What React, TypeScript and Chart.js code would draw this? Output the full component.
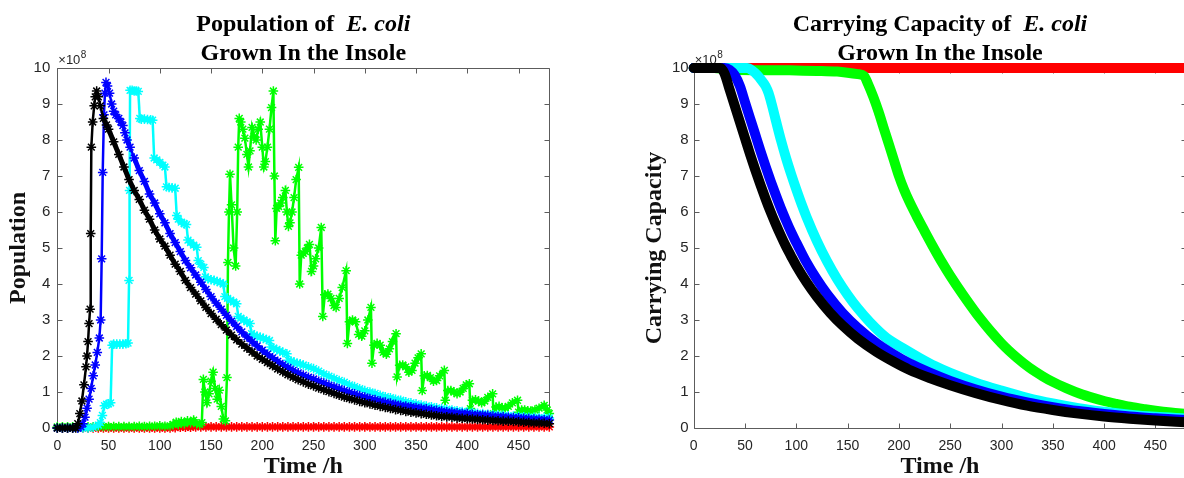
import React, { useEffect, useRef } from "react";
import { Chart, registerables } from "chart.js";

Chart.register(...registerables);

// ---------- axes ----------
const X_TICKS = [0, 50, 100, 150, 200, 250, 300, 350, 400, 450];
const Y_TICKS = [0, 1, 2, 3, 4, 5, 6, 7, 8, 9, 10];
const X_MAX = 480;
const Y_MAX = 10; // ×10^8

const LEFT_TITLE = ["Population of  ", "E. coli", "Grown In the Insole"];
const RIGHT_TITLE = ["Carrying Capacity of  ", "E. coli", "Grown In the Insole"];
const X_LABEL = "Time /h";
const LEFT_Y_LABEL = "Population";
const RIGHT_Y_LABEL = "Carrying Capacity";

// ---------- population (×10^8), [time h, value] ----------
const POP_BLACK: [number, number][] = [
  [0, 0], [5, 0], [10, 0], [15, 0], [18, 0], [20, 0.12], [22, 0.4], [24, 0.75], [26, 1.2], [28, 1.7], [29, 2.0],
  [30, 2.4], [31, 2.9], [32, 3.3], [32.6, 5.4], [33.2, 7.8], [34.5, 8.5], [36, 8.95], [37, 9.2], [38.4, 9.36],
  [40, 9.2], [42, 8.95], [45, 8.6], [48, 8.42], [50, 8.3], [55, 7.95], [60, 7.6], [65, 7.25], [70, 6.9], [75, 6.6],
  [80, 6.35], [85, 6.05], [90, 5.8], [95, 5.5], [100, 5.25], [105, 5.05], [110, 4.8], [115, 4.55], [120, 4.35],
  [125, 4.1], [130, 3.9], [135, 3.72], [140, 3.53], [145, 3.35], [150, 3.18], [155, 3.02], [160, 2.87], [165, 2.72],
  [170, 2.58], [175, 2.45], [180, 2.33], [185, 2.22], [190, 2.11], [195, 2.0], [200, 1.91], [205, 1.82], [210, 1.73],
  [215, 1.64], [220, 1.56], [225, 1.48], [230, 1.41], [235, 1.34], [240, 1.28], [245, 1.22], [250, 1.17], [255, 1.11],
  [260, 1.06], [265, 1.01], [270, 0.96], [275, 0.91], [280, 0.86], [285, 0.82], [290, 0.78], [295, 0.74], [300, 0.7],
  [305, 0.67], [310, 0.63], [315, 0.6], [320, 0.57], [325, 0.54], [330, 0.51], [335, 0.49], [340, 0.46], [345, 0.44],
  [350, 0.42], [355, 0.4], [360, 0.38], [365, 0.36], [370, 0.34], [375, 0.32], [380, 0.31], [385, 0.3], [390, 0.28],
  [395, 0.27], [400, 0.26], [405, 0.25], [410, 0.24], [415, 0.23], [420, 0.22], [425, 0.21], [430, 0.2], [435, 0.19],
  [440, 0.19], [445, 0.18], [450, 0.17], [455, 0.16], [460, 0.15], [465, 0.14], [470, 0.14], [475, 0.13], [480, 0.12],
];

const POP_BLUE: [number, number][] = [
  [0, 0], [5, 0], [10, 0], [15, 0], [20, 0], [23, 0.03], [25, 0.12], [27, 0.3], [29, 0.55], [31, 0.8], [33, 1.1],
  [35, 1.45], [37, 1.75], [39, 2.1], [41, 2.5], [42.3, 3.0], [43.3, 4.7], [44.3, 7.1], [45.5, 8.7], [46.5, 9.3],
  [47.5, 9.6], [49, 9.5], [51, 9.3], [53, 9.0], [55, 8.8], [57, 8.7], [60, 8.6], [62, 8.5], [64, 8.4], [66, 8.2],
  [68, 8.0], [71, 7.8], [75, 7.5], [80, 7.15], [85, 6.85], [90, 6.5], [95, 6.25], [100, 5.95], [105, 5.7], [110, 5.4],
  [115, 5.15], [120, 4.9], [125, 4.65], [130, 4.45], [135, 4.25], [140, 4.05], [145, 3.85], [150, 3.65], [155, 3.47],
  [160, 3.3], [165, 3.13], [170, 2.97], [175, 2.82], [180, 2.67], [185, 2.53], [190, 2.4], [195, 2.28], [200, 2.16],
  [205, 2.05], [210, 1.95], [215, 1.85], [220, 1.76], [225, 1.68], [230, 1.6], [235, 1.53], [240, 1.47], [245, 1.41],
  [250, 1.36], [255, 1.3], [260, 1.25], [265, 1.19], [270, 1.14], [275, 1.09], [280, 1.04], [285, 0.99], [290, 0.95],
  [295, 0.9], [300, 0.86], [305, 0.82], [310, 0.79], [315, 0.75], [320, 0.72], [325, 0.69], [330, 0.66], [335, 0.63],
  [340, 0.61], [345, 0.59], [350, 0.57], [355, 0.55], [360, 0.53], [365, 0.51], [370, 0.49], [375, 0.47], [380, 0.45],
  [385, 0.44], [390, 0.42], [395, 0.41], [400, 0.4], [405, 0.38], [410, 0.37], [415, 0.36], [420, 0.35], [425, 0.33],
  [430, 0.32], [435, 0.31], [440, 0.3], [445, 0.29], [450, 0.28], [455, 0.27], [460, 0.26], [465, 0.25], [470, 0.24],
  [475, 0.23], [480, 0.22],
];

const POP_CYAN: [number, number][] = [
  [0, 0], [5, 0], [10, 0], [15, 0], [20, 0], [25, 0], [30, 0], [35, 0.02], [40, 0.08], [42, 0.15], [44, 0.35],
  [46, 0.62], [48, 0.66], [50, 0.67], [52, 0.7], [53.5, 2.3], [55, 2.33], [58, 2.33], [61, 2.33], [64, 2.33],
  [67, 2.34], [69, 2.36], [70, 4.1], [70.5, 6.6], [71, 9.38], [73, 9.38], [75, 9.36], [77, 9.36], [79, 9.35],
  [80.5, 8.6], [82, 8.58], [85, 8.58], [88, 8.57], [91, 8.56], [93, 8.55], [94.5, 7.5], [97, 7.45], [100, 7.38],
  [103, 7.3], [105, 7.25], [106.5, 6.7], [109, 6.68], [112, 6.67], [115, 6.66], [116.5, 5.9], [118, 5.8], [121, 5.72],
  [124, 5.67], [126, 5.65], [127.5, 5.22], [130, 5.15], [133, 5.08], [136, 5.02], [137.5, 4.65], [140, 4.55],
  [143, 4.46], [144.5, 4.2], [147, 4.15], [150, 4.12], [153, 4.1], [156, 4.07], [159, 4.04], [162, 4.0], [163.5, 3.65],
  [166, 3.6], [169, 3.55], [172, 3.5], [175, 3.45], [176.5, 3.1], [179, 3.05], [182, 3.0], [185, 2.95], [188, 2.9],
  [189.5, 2.62], [192, 2.58], [195, 2.55], [198, 2.52], [201, 2.49], [204, 2.46], [207, 2.43], [208.5, 2.25],
  [211, 2.22], [214, 2.18], [217, 2.14], [220, 2.1], [224, 2.06], [225.5, 1.88], [228, 1.86], [231, 1.83], [234, 1.8],
  [237, 1.78], [240, 1.75], [245, 1.7], [250, 1.65], [255, 1.58], [260, 1.5], [265, 1.44], [270, 1.38], [275, 1.32],
  [280, 1.27], [285, 1.2], [290, 1.15], [295, 1.09], [300, 1.04], [305, 1.0], [310, 0.96], [315, 0.91], [320, 0.87],
  [325, 0.84], [330, 0.8], [335, 0.77], [340, 0.73], [345, 0.7], [350, 0.67], [355, 0.64], [360, 0.61], [365, 0.59],
  [370, 0.56], [375, 0.54], [380, 0.52], [385, 0.5], [390, 0.48], [395, 0.46], [400, 0.44], [405, 0.43], [410, 0.41],
  [415, 0.4], [420, 0.38], [425, 0.37], [430, 0.36], [435, 0.35], [440, 0.34], [445, 0.33], [450, 0.32], [455, 0.31],
  [460, 0.3], [465, 0.3], [470, 0.29], [475, 0.29], [480, 0.28],
];

const POP_GREEN: [number, number][] = [
  [0, 0.03], [5, 0.03], [10, 0.03], [15, 0.03], [20, 0.03], [25, 0.03], [30, 0.03], [35, 0.03], [40, 0.04], [45, 0.04],
  [50, 0.04], [55, 0.04], [60, 0.04], [65, 0.04], [70, 0.04], [75, 0.04], [80, 0.05], [85, 0.04], [90, 0.05], [95, 0.05],
  [100, 0.06], [105, 0.05], [110, 0.06], [113, 0.1], [116, 0.16], [118, 0.1], [121, 0.18], [124, 0.12], [127, 0.2],
  [130, 0.15], [133, 0.22], [136, 0.12], [139, 0.1], [141, 0.15], [142.5, 1.35], [144, 1.0], [146, 0.7], [148, 0.95],
  [150, 1.3], [152, 1.55], [154, 1.1], [156, 0.8], [158, 1.05], [160, 0.6], [162, 0.25], [164, 0.2], [165.5, 1.4],
  [166.5, 4.6], [167.5, 6.0], [168.5, 7.05], [170, 6.2], [172, 5.0], [174, 4.5], [175.5, 6.0], [176.5, 7.8], [177.5, 8.6],
  [179, 8.5], [181, 8.3], [183, 8.05], [185, 7.6], [186.5, 7.25], [188, 7.7], [190, 8.35], [192, 8.1], [194, 8.0],
  [196, 8.3], [198, 8.5], [200, 7.8], [201.5, 7.25], [203, 7.4], [205, 7.8], [207, 8.3], [209, 8.9], [210.8, 9.36],
  [211.8, 7.0], [212.7, 5.2], [214, 6.1], [216, 6.15], [218, 6.25], [220, 6.4], [222.5, 6.6], [224, 6.0], [225.5, 5.6],
  [227, 5.7], [229, 6.0], [231, 6.4], [233, 6.9], [235.5, 7.24], [236.5, 4.0], [238, 4.8], [240, 4.85], [242, 4.9],
  [244, 5.0], [246, 5.1], [248, 4.35], [250, 4.5], [252, 4.7], [255, 5.0], [257.5, 5.57], [259, 3.1], [261, 3.7],
  [264, 3.72], [267, 3.6], [270, 3.4], [272, 3.35], [275, 3.6], [278, 3.9], [281.8, 4.37], [283, 2.35], [285, 2.95],
  [288, 3.0], [291, 2.95], [294, 2.6], [297, 2.55], [300, 2.7], [303, 3.0], [306, 3.35], [307, 1.8], [309, 2.3],
  [312, 2.35], [315, 2.3], [318, 2.1], [321, 2.05], [324, 2.2], [327, 2.4], [330.5, 2.62], [331.5, 1.42], [334, 1.74],
  [337, 1.75], [340, 1.7], [343, 1.55], [346, 1.6], [349, 1.8], [352, 1.95], [355, 2.06], [356, 1.04], [358, 1.45],
  [361, 1.46], [364, 1.4], [367, 1.3], [370, 1.32], [373, 1.45], [377.6, 1.6], [378.5, 0.77], [381, 1.04], [384, 1.04],
  [387, 1.0], [390, 0.95], [393, 1.0], [396, 1.1], [399, 1.2], [402, 1.23], [403, 0.54], [405, 0.77], [408, 0.78],
  [411, 0.75], [414, 0.7], [417, 0.75], [420, 0.85], [424.7, 0.95], [425.5, 0.4], [428, 0.58], [431, 0.6], [434, 0.56],
  [437, 0.55], [440, 0.6], [444, 0.7], [449, 0.77], [450, 0.44], [453, 0.5], [456, 0.5], [459, 0.48], [462, 0.47],
  [466, 0.5], [470, 0.55], [475, 0.63], [478, 0.5], [480, 0.4],
];

const POP_RED: [number, number][] = [
  [0, 0], [5, 0], [10, 0], [15, 0], [20, 0], [25, 0], [30, 0], [35, 0], [40, 0], [45, 0], [50, 0], [55, 0], [60, 0],
  [65, 0], [70, 0], [75, 0], [80, 0], [85, 0], [90, 0], [95, 0], [100, 0], [105, 0], [110, 0], [115, 0.01], [120, 0.02],
  [125, 0.02], [130, 0.02], [135, 0.03], [140, 0.03], [145, 0.03], [150, 0.03], [155, 0.03], [160, 0.03], [165, 0.03],
  [170, 0.03], [175, 0.03], [180, 0.03], [185, 0.03], [190, 0.03], [195, 0.03], [200, 0.03], [205, 0.03], [210, 0.03],
  [215, 0.03], [220, 0.03], [225, 0.03], [230, 0.03], [235, 0.03], [240, 0.03], [245, 0.03], [250, 0.03], [255, 0.03],
  [260, 0.03], [265, 0.03], [270, 0.03], [275, 0.03], [280, 0.03], [285, 0.03], [290, 0.03], [295, 0.03], [300, 0.03],
  [305, 0.03], [310, 0.03], [315, 0.03], [320, 0.03], [325, 0.03], [330, 0.03], [335, 0.03], [340, 0.03], [345, 0.03],
  [350, 0.03], [355, 0.03], [360, 0.03], [365, 0.03], [370, 0.03], [375, 0.03], [380, 0.03], [385, 0.03], [390, 0.03],
  [395, 0.03], [400, 0.03], [405, 0.03], [410, 0.03], [415, 0.03], [420, 0.03], [425, 0.03], [430, 0.03], [435, 0.03],
  [440, 0.03], [445, 0.03], [450, 0.03], [455, 0.03], [460, 0.03], [465, 0.03], [470, 0.03], [475, 0.03], [480, 0.03],
];

// ---------- carrying capacity (×10^8), [time h, value] ----------
const CAP_BLACK: [number, number][] = [
  [0, 10], [26, 10], [30, 9.85], [35, 9.4], [40, 8.95], [45, 8.5], [50, 8.05], [55, 7.6], [60, 7.17], [65, 6.76],
  [70, 6.37], [75, 6.0], [80, 5.66], [85, 5.34], [90, 5.04], [95, 4.77], [100, 4.51], [110, 4.05], [120, 3.65],
  [133, 3.2], [145, 2.85], [160, 2.48], [178, 2.12], [195, 1.84], [210, 1.62], [230, 1.39], [250, 1.19], [275, 0.97],
  [300, 0.78], [325, 0.62], [350, 0.5], [375, 0.4], [400, 0.32], [425, 0.26], [450, 0.21], [480, 0.16],
];
const CAP_BLUE: [number, number][] = [
  [0, 10], [30, 10], [35, 9.95], [40, 9.8], [45, 9.5], [50, 9.05], [55, 8.6], [60, 8.15], [65, 7.7], [70, 7.27],
  [75, 6.86], [80, 6.47], [85, 6.1], [90, 5.76], [95, 5.44], [100, 5.15], [105, 4.87], [110, 4.6], [120, 4.13],
  [130, 3.72], [145, 3.2], [160, 2.78], [178, 2.36], [195, 2.04], [210, 1.8], [230, 1.54], [250, 1.31], [275, 1.07],
  [300, 0.87], [325, 0.71], [350, 0.58], [375, 0.47], [400, 0.39], [425, 0.32], [450, 0.27], [480, 0.22],
];
const CAP_CYAN: [number, number][] = [
  [0, 10], [40, 10], [52, 10], [57, 9.93], [62, 9.8], [66, 9.66], [70, 9.5], [73, 9.3], [76, 9.0], [80, 8.55],
  [85, 8.0], [90, 7.5], [95, 7.05], [100, 6.63], [105, 6.23], [110, 5.86], [120, 5.2], [130, 4.63], [140, 4.13],
  [150, 3.7], [160, 3.32], [172, 2.93], [188, 2.5], [205, 2.2], [220, 1.95], [235, 1.72], [250, 1.53], [275, 1.26],
  [300, 1.04], [325, 0.84], [350, 0.68], [375, 0.55], [400, 0.45], [425, 0.37], [450, 0.31], [480, 0.26],
];
const CAP_GREEN: [number, number][] = [
  [0, 10], [20, 10], [30, 9.97], [40, 9.95], [60, 9.94], [80, 9.94], [100, 9.93], [120, 9.92], [140, 9.9], [150, 9.87],
  [160, 9.83], [166, 9.78], [170, 9.55], [175, 9.2], [180, 8.8], [185, 8.35], [190, 7.9], [195, 7.45], [200, 7.0],
  [205, 6.62], [210, 6.3], [217, 5.9], [225, 5.47], [233, 5.05], [242, 4.6], [250, 4.23], [262, 3.72], [279, 3.05],
  [300, 2.35], [315, 1.95], [327, 1.68], [340, 1.44], [350, 1.28], [363, 1.11], [376, 0.96], [390, 0.83], [400, 0.75],
  [412, 0.67], [425, 0.59], [440, 0.52], [450, 0.48], [465, 0.43], [480, 0.39],
];
const CAP_RED: [number, number][] = [[0, 10], [120, 10], [240, 10], [360, 10], [480, 10]];

const COLORS = { black: "#000000", blue: "#0000ff", cyan: "#00ffff", green: "#00ff00", red: "#ff0000" };

const SANS = '"Liberation Sans", Arial, Helvetica, sans-serif';
const SERIF = '"Liberation Serif", "Times New Roman", Times, serif';
const AXIS_COLOR = "#5c5c5c";
const TEXT_COLOR = "#262626";

function decorPlugin(title: string[]) {
  return {
    id: "decor",
    beforeDatasetsDraw(chart: any) {
      const { ctx, chartArea: a } = chart;
      const xs = chart.scales.x;
      const ys = chart.scales.y;
      ctx.save();
      ctx.strokeStyle = AXIS_COLOR;
      ctx.lineWidth = 1;
      const L = Math.round(a.left) + 0.5;
      const R = Math.round(a.right) + 0.5;
      const T = Math.round(a.top) + 0.5;
      const B = Math.round(a.bottom) + 0.5;
      ctx.beginPath();
      ctx.rect(L, T, R - L, B - T);
      const TL = 5;
      for (const v of X_TICKS) {
        const x = Math.round(xs.getPixelForValue(v)) + 0.5;
        ctx.moveTo(x, B);
        ctx.lineTo(x, B - TL);
        ctx.moveTo(x, T);
        ctx.lineTo(x, T + TL);
      }
      for (const v of Y_TICKS) {
        const y = Math.round(ys.getPixelForValue(v)) + 0.5;
        ctx.moveTo(L, y);
        ctx.lineTo(L + TL, y);
        ctx.moveTo(R, y);
        ctx.lineTo(R - TL, y);
      }
      ctx.stroke();
      // exponent label
      ctx.fillStyle = TEXT_COLOR;
      ctx.textAlign = "left";
      ctx.textBaseline = "alphabetic";
      ctx.font = "13px " + SANS;
      const bx = a.left + 1;
      const by = a.top - 4;
      ctx.fillText("\u00d710", bx, by);
      const w = ctx.measureText("\u00d710").width;
      ctx.font = "10px " + SANS;
      ctx.fillText("8", bx + w + 0.5, by - 6);
      ctx.restore();
    },
    afterDatasetsDraw(chart: any) {
      const { ctx, chartArea: a } = chart;
      const cx = (a.left + a.right) / 2;
      ctx.save();
      ctx.fillStyle = "#000";
      ctx.textBaseline = "alphabetic";
      ctx.textAlign = "left";
      const fB = "bold 24px " + SERIF;
      const fBI = "italic bold 24px " + SERIF;
      ctx.font = fB;
      const w1 = ctx.measureText(title[0]).width;
      ctx.font = fBI;
      const w2 = ctx.measureText(title[1]).width;
      const x0 = cx - (w1 + w2) / 2;
      ctx.font = fB;
      ctx.fillText(title[0], x0, 31);
      ctx.font = fBI;
      ctx.fillText(title[1], x0 + w1, 31);
      ctx.font = fB;
      ctx.textAlign = "center";
      ctx.fillText(title[2], cx, 60);
      ctx.restore();
    },
  };
}

function makeScales(yLabel: string, yWidth: number, yTitlePad: number, yTickPad: number) {
  return {
    x: {
      type: "linear",
      min: 0,
      max: X_MAX,
      afterBuildTicks: (s: any) => {
        s.ticks = X_TICKS.map((v) => ({ value: v }));
      },
      afterFit: (s: any) => {
        s.height = 50;
      },
      grid: { display: false, drawTicks: false },
      border: { display: false },
      ticks: {
        font: { family: SANS, size: 14 },
        color: TEXT_COLOR,
        padding: 10,
        maxRotation: 0,
        autoSkip: false,
      },
      title: {
        display: true,
        text: X_LABEL,
        color: "#111",
        font: { family: SERIF, size: 24, weight: "bold", lineHeight: 0.9 },
        padding: { top: 0, bottom: 0 },
      },
    },
    y: {
      type: "linear",
      min: 0,
      max: Y_MAX,
      afterBuildTicks: (s: any) => {
        s.ticks = Y_TICKS.map((v) => ({ value: v }));
      },
      afterFit: (s: any) => {
        s.width = yWidth;
      },
      grid: { display: false, drawTicks: false },
      border: { display: false },
      ticks: {
        font: { family: SANS, size: 15 },
        color: TEXT_COLOR,
        padding: yTickPad,
        autoSkip: false,
      },
      title: {
        display: true,
        text: yLabel,
        color: "#111",
        font: { family: SERIF, size: 24, weight: "bold", lineHeight: 1 },
        padding: { top: yTitlePad, bottom: 0 },
      },
    },
  };
}

function starSet(label: string, data: [number, number][], color: string) {
  return {
    label,
    data,
    borderColor: color,
    backgroundColor: color,
    borderWidth: 5,
    segment: {
      borderWidth: (c: any) => {
        const dx = Math.abs(c.p1.x - c.p0.x);
        const dy = Math.abs(c.p1.y - c.p0.y);
        return dy > 2.5 * dx ? 2.5 : 5;
      },
    },
    pointStyle: "star",
    pointRadius: 4.8,
    pointBorderWidth: 1.5,
    pointBorderColor: color,
    pointBackgroundColor: color,
    tension: 0,
    clip: false,
  };
}

function bandSet(label: string, data: [number, number][], color: string) {
  return {
    label,
    data,
    borderColor: color,
    backgroundColor: color,
    borderWidth: 10,
    borderCapStyle: "round",
    borderJoinStyle: "round",
    pointRadius: 0,
    cubicInterpolationMode: "monotone",
    clip: false,
  };
}

const baseOptions = {
  responsive: false,
  animation: false,
  devicePixelRatio: 1,
  events: [],
  plugins: { legend: { display: false }, tooltip: { enabled: false }, title: { display: false } },
};

export default function App() {
  const leftRef = useRef<HTMLCanvasElement>(null);
  const rightRef = useRef<HTMLCanvasElement>(null);

  useEffect(() => {
    const left = new Chart(leftRef.current as HTMLCanvasElement, {
      type: "line",
      data: {
        datasets: [
          starSet("black", POP_BLACK, COLORS.black),
          starSet("blue", POP_BLUE, COLORS.blue),
          starSet("cyan", POP_CYAN, COLORS.cyan),
          starSet("green", POP_GREEN, COLORS.green),
          starSet("red", POP_RED, COLORS.red),
        ],
      },
      options: {
        ...baseOptions,
        layout: { padding: { left: 0, right: 42.7, top: 68, bottom: 0 } },
        scales: makeScales(LEFT_Y_LABEL, 57.3, 6.5, 7),
      } as any,
      plugins: [decorPlugin(LEFT_TITLE)],
    } as any);

    const right = new Chart(rightRef.current as HTMLCanvasElement, {
      type: "line",
      data: {
        datasets: [
          bandSet("black", CAP_BLACK, COLORS.black),
          bandSet("blue", CAP_BLUE, COLORS.blue),
          bandSet("cyan", CAP_CYAN, COLORS.cyan),
          bandSet("green", CAP_GREEN, COLORS.green),
          bandSet("red", CAP_RED, COLORS.red),
        ],
      },
      options: {
        ...baseOptions,
        layout: { padding: { left: 0, right: 5.8, top: 68, bottom: 0 } },
        scales: makeScales(RIGHT_Y_LABEL, 101.7, 51, 5),
      } as any,
      plugins: [decorPlugin(RIGHT_TITLE)],
    } as any);

    return () => {
      left.destroy();
      right.destroy();
    };
  }, []);

  return (
    <div
      style={{
        position: "fixed",
        left: 0,
        top: 0,
        width: 1184,
        height: 478,
        overflow: "hidden",
        background: "#ffffff",
      }}
    >
      <canvas
        ref={leftRef}
        width={592}
        height={478}
        style={{ position: "absolute", left: 0, top: 0, width: 592, height: 478 }}
      />
      <canvas
        ref={rightRef}
        width={600}
        height={478}
        style={{ position: "absolute", left: 592, top: 0, width: 600, height: 478 }}
      />
    </div>
  );
}
